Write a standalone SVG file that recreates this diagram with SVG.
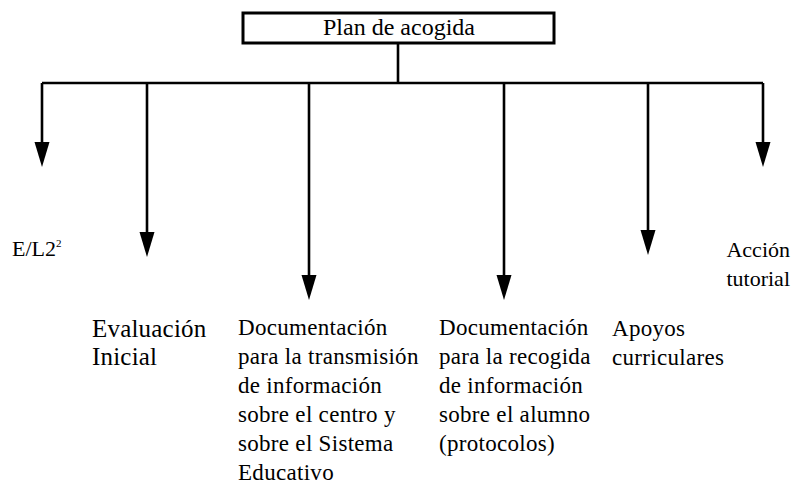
<svg xmlns="http://www.w3.org/2000/svg" width="794" height="498" viewBox="0 0 794 498">
<style>
  text { font-family: 'Liberation Serif', 'DejaVu Serif', 'Times New Roman', Times, serif; fill: #000; }
  .c { font-size: 23px; letter-spacing: 0.3px; }
  .ln { stroke: #000; stroke-width: 2.6; fill: none; }
  .box { fill: #fff; stroke: #000; stroke-width: 3; }
</style>
<rect width="794" height="498" fill="#fff"/>
<g id="connectors">
  <line class="ln" x1="398" y1="43" x2="398" y2="83"/>
  <line class="ln" x1="42" y1="83" x2="763" y2="83" stroke-width="3"/>
  <path class="ln" d="M42,83 V143"/>
  <polygon points="34.5,142 49.5,142 42,167" fill="#000"/>
  <path class="ln" d="M147,83 V233"/>
  <polygon points="139.5,232 154.5,232 147,257" fill="#000"/>
  <path class="ln" d="M309,83 V276"/>
  <polygon points="301.5,275 316.5,275 309,300" fill="#000"/>
  <path class="ln" d="M504,83 V276"/>
  <polygon points="496.5,275 511.5,275 504,300" fill="#000"/>
  <path class="ln" d="M648,83 V231"/>
  <polygon points="640.5,230 655.5,230 648,255" fill="#000"/>
  <path class="ln" d="M763,83 V143"/>
  <polygon points="755.5,142 770.5,142 763,167" fill="#000"/>
</g>
<g id="plan">
  <rect class="box" x="243" y="13" width="311" height="30"/>
  <text x="399" y="35" font-size="24" text-anchor="middle" font-family="Liberation Serif, serif">Plan de acogida</text>
</g>
<g id="el2" font-family="Liberation Serif, serif">
  <text x="12" y="256" font-size="22" font-family="Liberation Serif, serif">E/L2<tspan font-size="11" dy="-9">2</tspan></text>
</g>
<g id="evaluacion">
  <text x="92" y="337" font-size="25" letter-spacing="0.2" font-family="Liberation Serif, serif">Evaluación</text>
  <text x="92" y="365" font-size="25" letter-spacing="0.2" font-family="Liberation Serif, serif">Inicial</text>
</g>
<g id="doc-centro">
  <text class="c" x="238" y="335" font-family="Liberation Serif, serif">Documentación</text>
  <text class="c" x="238" y="364" font-family="Liberation Serif, serif">para la transmisión</text>
  <text class="c" x="238" y="393" font-family="Liberation Serif, serif">de información</text>
  <text class="c" x="238" y="422" font-family="Liberation Serif, serif">sobre el centro y</text>
  <text class="c" x="238" y="451" font-family="Liberation Serif, serif">sobre el Sistema</text>
  <text class="c" x="238" y="480" font-family="Liberation Serif, serif">Educativo</text>
</g>
<g id="doc-alumno">
  <text class="c" x="439" y="335" font-family="Liberation Serif, serif">Documentación</text>
  <text class="c" x="439" y="364" font-family="Liberation Serif, serif">para la recogida</text>
  <text class="c" x="439" y="393" font-family="Liberation Serif, serif">de información</text>
  <text class="c" x="439" y="422" font-family="Liberation Serif, serif">sobre el alumno</text>
  <text class="c" x="439" y="451" font-family="Liberation Serif, serif">(protocolos)</text>
</g>
<g id="apoyos">
  <text class="c" x="612" y="336" font-family="Liberation Serif, serif">Apoyos</text>
  <text class="c" x="612" y="365" font-family="Liberation Serif, serif">curriculares</text>
</g>
<g id="accion">
  <text x="790" y="257" font-size="22" text-anchor="end" font-family="Liberation Serif, serif">Acción</text>
  <text x="790" y="286" font-size="22" text-anchor="end" font-family="Liberation Serif, serif">tutorial</text>
</g>
</svg>
